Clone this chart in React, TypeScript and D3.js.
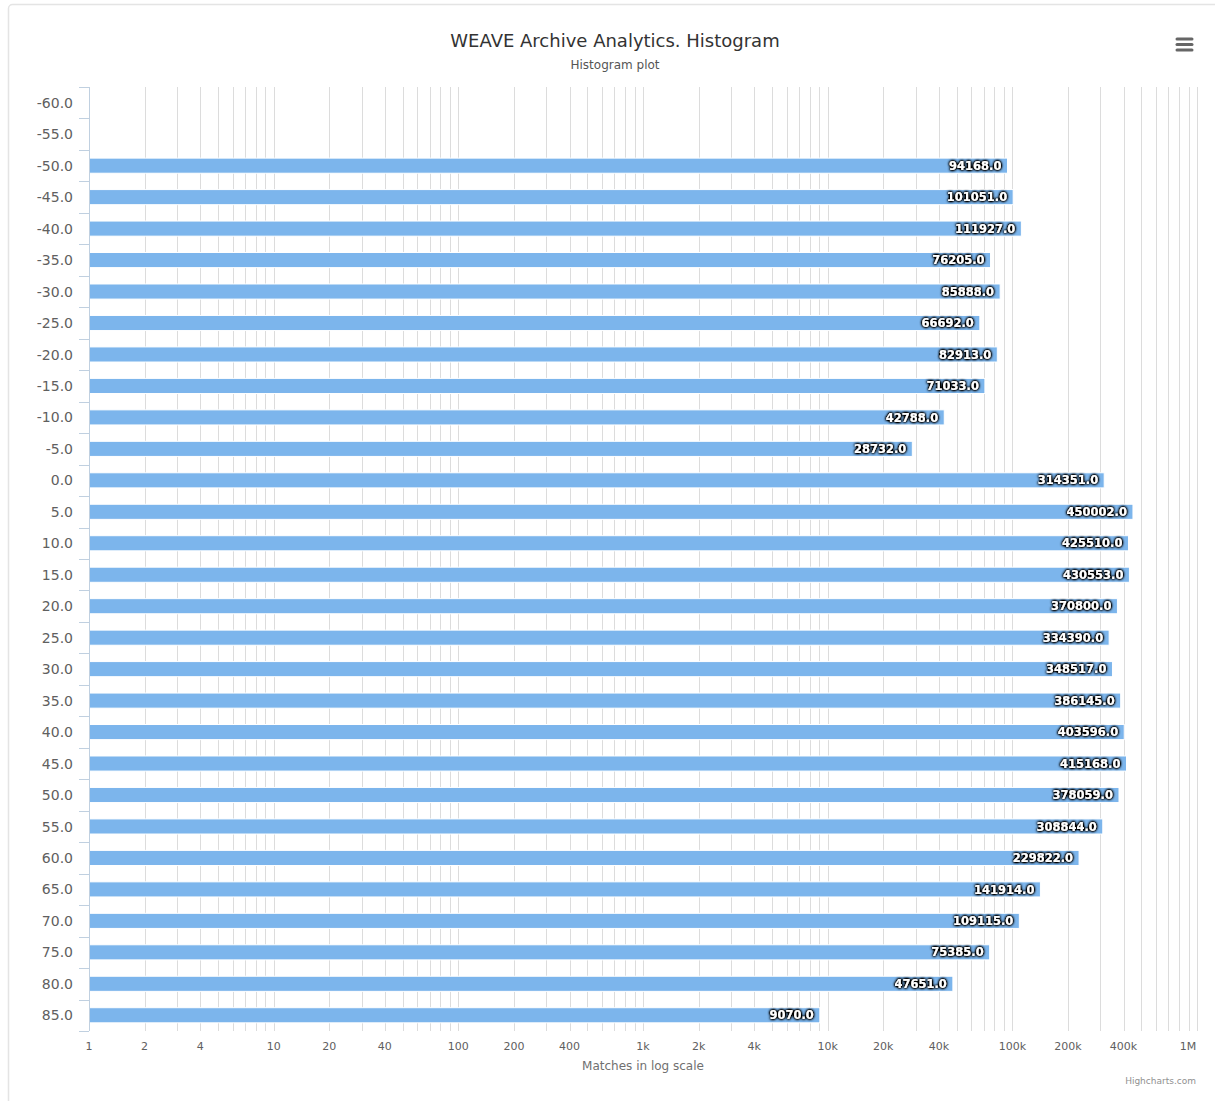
import React from 'react';
import * as d3 from 'd3';

const categories = [
  -60, -55, -50, -45, -40, -35, -30, -25, -20, -15, -10, -5, 0, 5, 10, 15, 20, 25, 30, 35, 40, 45, 50, 55,
  60, 65, 70, 75, 80, 85,
];

// matches per bin (null = empty bin)
const matches: (number | null)[] = [
  null, null, 94168, 101051, 111927, 76205, 85888, 66692, 82913, 71033, 42788, 28732, 314351, 450002,
  425510, 430553, 370800, 334390, 348517, 386145, 403596, 415168, 378059, 308844, 229822, 141914,
  109115, 75385, 47651, 9070,
];

const tickValues = [1, 2, 4, 10, 20, 40, 100, 200, 400, 1e3, 2e3, 4e3, 1e4, 2e4, 4e4, 1e5, 2e5, 4e5, 1e6];
const tickLabels = ['1', '2', '4', '10', '20', '40', '100', '200', '400', '1k', '2k', '4k', '10k', '20k', '40k', '100k', '200k', '400k', '1M'];

const FONT = '"Lucida Grande", "Lucida Sans Unicode", "DejaVu Sans", Verdana, sans-serif';

const App: React.FC = () => {
  const width = 1215;
  const height = 1101;
  const margin = { top: 87, right: 18, bottom: 70, left: 89 };
  const plotW = width - margin.left - margin.right;
  const plotH = height - margin.top - margin.bottom;

  const x = d3.scaleLog().domain([1, 1e6]).range([0, plotW]);
  const y = d3.scaleBand<number>().domain(categories).range([0, plotH]).paddingInner(0).paddingOuter(0);
  const bw = y.bandwidth();
  const barH = bw * 0.6 * 0.8;

  // grid: every 1..9 per decade
  const gridVals: number[] = [];
  for (let e = 0; e < 6; e++) {
    for (let m = 1; m < 10; m++) gridVals.push(m * Math.pow(10, e));
  }
  gridVals.push(1e6);

  return (
    <div style={{ position: 'absolute', left: 0, top: 0 }}>
      <svg width={width} height={height} style={{ display: 'block', fontFamily: FONT }}>
        <defs>
          <filter id="halo" x="-20%" y="-60%" width="140%" height="220%">
            <feGaussianBlur in="SourceAlpha" stdDeviation="1.8" result="b" />
            <feComponentTransfer in="b" result="b2">
              <feFuncA type="linear" slope="3" />
            </feComponentTransfer>
            <feMerge>
              <feMergeNode in="b2" />
              <feMergeNode in="SourceGraphic" />
            </feMerge>
          </filter>
        </defs>
        <rect x={0} y={0} width={width} height={height} fill="#ffffff" />
        <rect x={8.5} y={4.5} width={1240} height={1130} rx={4} fill="#ffffff" stroke="#e4e4e4" strokeWidth={1.5} />

        <text x={615} y={47} textAnchor="middle" fontSize={18} fill="#333333">
          WEAVE Archive Analytics. Histogram
        </text>
        <text x={615} y={69} textAnchor="middle" fontSize={12} fill="#555555">
          Histogram plot
        </text>

        {/* export menu */}
        <g stroke="#666666" strokeWidth={3} strokeLinecap="round">
          {[39, 44.5, 50].map(yy => (
            <line key={yy} x1={1177} x2={1192} y1={yy} y2={yy} />
          ))}
        </g>

        <g transform={`translate(${margin.left},${margin.top})`}>
          {gridVals.map(v => (
            <line
              key={v}
              x1={Math.round(x(v)) + 0.5}
              x2={Math.round(x(v)) + 0.5}
              y1={0}
              y2={plotH}
              stroke="#dcdcdc"
              strokeWidth={1}
            />
          ))}

          {matches.map((v, i) =>
            v == null ? null : (
              <rect
                key={i}
                x={0}
                y={(y(categories[i]) ?? 0) + (bw - barH) / 2}
                width={x(v)}
                height={barH}
                fill="#7cb5ec"
                stroke="#ffffff"
                strokeWidth={1}
              />
            ),
          )}

          {matches.map((v, i) =>
            v == null ? null : (
              <text
                key={`l${i}`}
                x={x(v) - 6}
                y={(y(categories[i]) ?? 0) + bw / 2}
                dy="0.36em"
                textAnchor="end"
                fontSize={11.5}
                fontWeight="bold"
                fill="#ffffff"
                filter="url(#halo)"
                style={{ fontFamily: '"DejaVu Sans", Verdana, sans-serif' }}
              >
                {v.toFixed(1)}
              </text>
            ),
          )}

          {/* category axis */}
          <line x1={0.5} x2={0.5} y1={0} y2={plotH} stroke="#C0D0E0" />
          {d3.range(categories.length + 1).map(k => (
            <line
              key={`t${k}`}
              x1={-10}
              x2={0}
              y1={Math.round(k * bw) + 0.5}
              y2={Math.round(k * bw) + 0.5}
              stroke="#C0D0E0"
            />
          ))}
          {categories.map(c => (
            <text
              key={`c${c}`}
              x={-16}
              y={(y(c) ?? 0) + bw / 2}
              dy="0.36em"
              textAnchor="end"
              fontSize={14}
              fill="#606060"
            >
              {c.toFixed(1)}
            </text>
          ))}

          {/* value axis labels */}
          {tickValues.map((v, i) => (
            <text
              key={`v${v}`}
              x={i === tickValues.length - 1 ? x(v) - 9 : x(v)}
              y={plotH + 19}
              textAnchor="middle"
              fontSize={11}
              fill="#606060"
            >
              {tickLabels[i]}
            </text>
          ))}
          <text x={x(1e3)} y={plotH + 39} textAnchor="middle" fontSize={12} fill="#707070">
            Matches in log scale
          </text>
        </g>

        <text x={1196} y={1084} textAnchor="end" fontSize={9} fill="#909090">
          Highcharts.com
        </text>
      </svg>
    </div>
  );
};

export default App;
